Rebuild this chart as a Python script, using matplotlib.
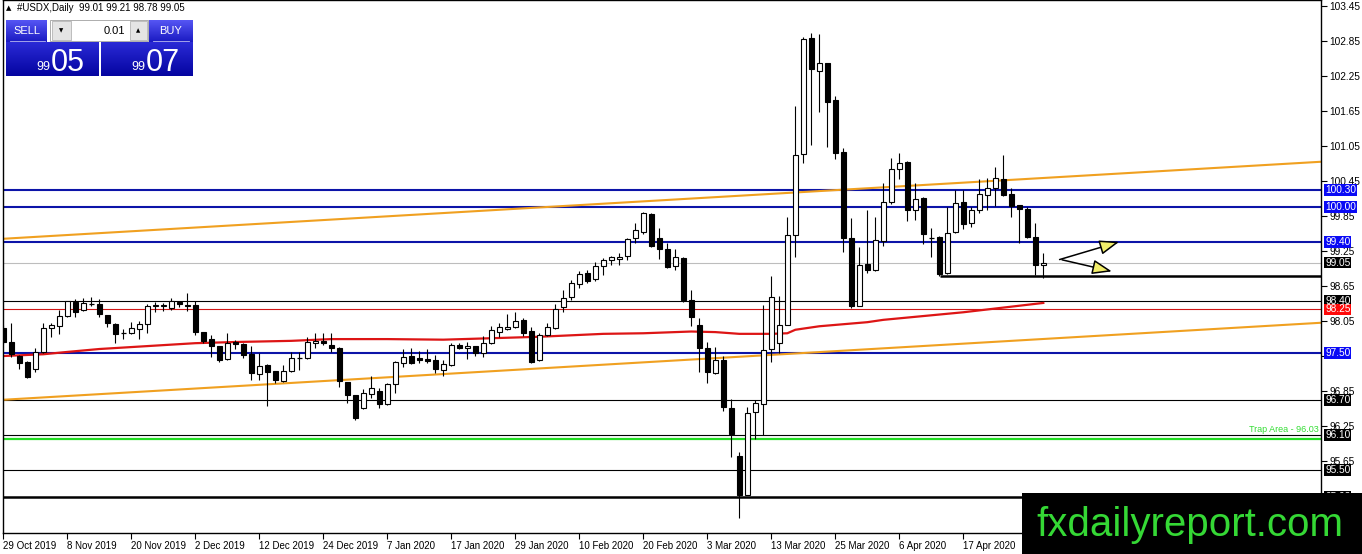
import matplotlib
matplotlib.use('Agg')
import matplotlib.pyplot as plt
import matplotlib.transforms as mtransforms
from matplotlib.patches import Rectangle, FancyArrowPatch
from matplotlib.colors import LinearSegmentedColormap
import numpy as np

plt.rcParams['font.family'] = ['Liberation Sans', 'DejaVu Sans']

# ---------------- data (daily OHLC, 29 Oct 2019 .. 1 May 2020) ----------------
opens = [97.93, 97.69, 97.45, 97.35, 97.23, 97.52, 97.93, 97.96, 98.14, 98.38,
         98.24, 98.35, 98.34, 98.15, 98.00, 97.84, 97.84, 97.91, 98.00, 98.31,
         98.31, 98.27, 98.38, 98.33, 98.33, 97.86, 97.74, 97.62, 97.40, 97.69,
         97.66, 97.48, 97.14, 97.30, 97.19, 97.02, 97.19, 97.42, 97.42, 97.67,
         97.71, 97.64, 97.59, 97.00, 96.78, 96.56, 96.80, 96.85, 96.63, 96.97,
         97.33, 97.45, 97.42, 97.40, 97.38, 97.21, 97.30, 97.64, 97.59, 97.62,
         97.50, 97.67, 97.86, 97.91, 97.95, 98.07, 97.88, 97.38, 97.81, 97.93,
         98.29, 98.46, 98.69, 98.87, 98.77, 98.99, 99.10, 99.11, 99.16, 99.47,
         99.58, 99.89, 99.47, 99.28, 98.99, 99.13, 98.41, 97.99, 97.59, 97.16,
         97.38, 96.56, 95.74, 95.07, 96.49, 96.62, 97.57, 97.67, 97.99, 99.52,
         100.91, 102.90, 102.34, 102.47, 101.84, 100.95, 99.47, 98.31, 99.03, 98.92,
         99.42, 100.09, 100.66, 100.78, 99.95, 100.16, 99.47, 99.49, 98.87, 99.57,
         100.09, 99.73, 99.95, 100.21, 100.33, 100.48, 100.23, 100.04, 99.97, 99.49,
         99.01]
highs = [97.98, 98.02, 97.47, 97.36, 97.59, 98.02, 98.01, 98.24, 98.40, 98.43,
         98.44, 98.46, 98.43, 98.16, 98.01, 97.91, 98.03, 98.05, 98.34, 98.38,
         98.36, 98.44, 98.40, 98.53, 98.39, 97.87, 97.81, 97.63, 97.84, 97.72,
         97.67, 97.62, 97.50, 97.31, 97.20, 97.30, 97.52, 97.52, 97.78, 97.84,
         97.84, 97.84, 97.60, 97.01, 96.79, 96.88, 97.11, 96.90, 96.98, 97.36,
         97.57, 97.59, 97.54, 97.57, 97.47, 97.38, 97.67, 97.67, 97.69, 97.63,
         97.79, 97.96, 98.02, 98.17, 98.20, 98.10, 97.95, 97.84, 98.02, 98.34,
         98.58, 98.75, 98.91, 98.93, 99.06, 99.13, 99.16, 99.22, 99.47, 99.73,
         99.92, 99.90, 99.64, 99.39, 99.28, 99.15, 98.58, 98.10, 97.69, 97.61,
         97.45, 96.71, 95.80, 96.57, 96.69, 98.32, 98.82, 98.48, 99.83, 101.74,
         102.92, 102.99, 102.97, 102.48, 101.91, 101.02, 99.81, 99.32, 99.95, 99.83,
         100.42, 100.85, 100.93, 100.79, 100.42, 100.17, 99.64, 99.50, 100.00, 100.30,
         100.30, 100.00, 100.48, 100.50, 100.69, 100.90, 100.33, 100.04, 100.00, 99.73,
         99.21]
lows = [97.66, 97.43, 97.23, 97.08, 97.18, 97.50, 97.78, 97.83, 98.12, 98.12,
        98.22, 98.31, 98.12, 97.95, 97.67, 97.74, 97.83, 97.74, 97.84, 98.20,
        98.22, 98.24, 98.29, 98.22, 97.81, 97.67, 97.43, 97.35, 97.38, 97.57,
        97.42, 97.04, 97.04, 96.59, 96.99, 97.00, 97.18, 97.21, 97.40, 97.59,
        97.64, 97.52, 96.92, 96.64, 96.35, 96.54, 96.73, 96.56, 96.61, 96.81,
        97.26, 97.31, 97.33, 97.33, 97.16, 97.11, 97.28, 97.57, 97.40, 97.45,
        97.43, 97.66, 97.78, 97.90, 97.93, 97.79, 97.33, 97.36, 97.79, 97.91,
        98.20, 98.41, 98.62, 98.70, 98.74, 98.84, 99.01, 99.01, 99.10, 99.39,
        99.54, 99.32, 99.11, 98.96, 98.92, 98.38, 97.96, 97.18, 96.99, 97.14,
        96.50, 95.72, 94.68, 95.06, 96.02, 96.10, 97.35, 97.50, 97.98, 99.15,
        100.76, 101.07, 101.63, 101.03, 100.83, 99.23, 98.27, 98.30, 98.87, 98.90,
        99.34, 100.06, 100.49, 99.76, 99.78, 99.37, 99.15, 98.82, 98.86, 99.56,
        99.63, 99.66, 99.90, 99.95, 100.02, 100.19, 99.83, 99.38, 99.47, 98.84,
        98.78]
closes = [97.69, 97.48, 97.33, 97.09, 97.52, 97.93, 97.98, 98.14, 98.39, 98.20,
          98.36, 98.36, 98.17, 98.02, 97.83, 97.85, 97.93, 98.00, 98.31, 98.33,
          98.33, 98.39, 98.34, 98.31, 97.86, 97.71, 97.62, 97.38, 97.67, 97.66,
          97.47, 97.16, 97.28, 97.18, 97.04, 97.19, 97.42, 97.43, 97.69, 97.71,
          97.67, 97.59, 97.02, 96.78, 96.39, 96.81, 96.90, 96.63, 96.97, 97.35,
          97.43, 97.33, 97.38, 97.36, 97.23, 97.31, 97.64, 97.59, 97.62, 97.50,
          97.67, 97.90, 97.95, 97.95, 98.05, 97.84, 97.35, 97.81, 97.95, 98.26,
          98.45, 98.70, 98.86, 98.74, 98.99, 99.10, 99.15, 99.15, 99.45, 99.61,
          99.90, 99.34, 99.28, 98.97, 99.15, 98.41, 98.12, 97.59, 97.18, 97.38,
          96.57, 96.11, 95.07, 96.47, 96.64, 97.55, 98.46, 97.99, 99.52, 100.90,
          102.88, 102.37, 102.47, 101.81, 100.93, 99.47, 98.31, 99.01, 98.92, 99.44,
          100.09, 100.66, 100.76, 99.95, 100.14, 99.54, 99.48, 98.86, 99.56, 100.07,
          99.71, 99.95, 100.23, 100.33, 100.50, 100.21, 100.02, 99.97, 99.49, 99.01,
          99.05]

date_tick_bars = [0, 8, 16, 24, 32, 40, 48, 56, 64, 72, 80, 88, 96, 104, 112, 120]
date_tick_labels = ['29 Oct 2019', '8 Nov 2019', '20 Nov 2019', '2 Dec 2019',
                    '12 Dec 2019', '24 Dec 2019', '7 Jan 2020', '17 Jan 2020',
                    '29 Jan 2020', '10 Feb 2020', '20 Feb 2020', '3 Mar 2020',
                    '13 Mar 2020', '25 Mar 2020', '6 Apr 2020', '17 Apr 2020']

# 200-day moving average (read at selected bars)
ma_bars = [0, 5, 8, 12, 18, 24, 29, 36, 41, 48, 55, 67, 75, 80, 86, 89, 92, 96,
           98, 99, 102, 108, 110, 120, 130]
ma_vals = [97.45, 97.48, 97.52, 97.57, 97.62, 97.67, 97.69, 97.71, 97.74, 97.74,
           97.73, 97.78, 97.83, 97.84, 97.87, 97.86, 97.83, 97.83, 97.84, 97.90,
           97.96, 98.03, 98.07, 98.20, 98.36]

# trend lines (bar, price) endpoints
upper_trend = [(0.0, 99.46), (164.7, 100.78)]
lower_trend = [(0.0, 96.70), (164.7, 98.02)]

# horizontal levels
blue_levels = [100.30, 100.00, 99.40, 97.50]
black_levels = [98.40, 96.70, 96.10, 95.50]
red_level = 98.25
current_price = 99.05
bottom_level = 95.03
trap_level = 96.03
support_level = 98.83
support_start_bar = 117.1

price_labels = [(100.30, '100.30', '#0a0af5'), (100.00, '100.00', '#0a0af5'),
                (99.40, '99.40', '#0a0af5'), (99.05, '99.05', 'black'),
                (98.40, '98.40', 'black'), (98.25, '98.25', '#ff0a0a'),
                (97.50, '97.50', '#0a0af5'), (96.70, '96.70', 'black'),
                (96.10, '96.10', 'black'), (95.50, '95.50', 'black'),
                (95.03, '95.03', 'black')]
hidden_ticks = [97.45, 95.05]   # tick labels covered by level labels / logo

arrows = [((131.7, 99.09), (139.8, 99.42)), ((132.0, 99.11), (138.9, 98.89))]

# ---------------- figure ----------------
W, H = 1362, 554
fig = plt.figure(figsize=(W / 100, H / 100), dpi=100)
fig.patch.set_facecolor('white')
ax = fig.add_axes([3 / W, (H - 533) / H, (1321 - 3) / W, 533 / H])
ax.set_xlim(-0.04, 164.71)
ax.set_ylim(94.416, 103.553)
for s in ax.spines.values():
    s.set_linewidth(1.0)
    s.set_color('black')

# horizontal lines
for lv in blue_levels:
    ax.axhline(lv, color='#0c14a8', lw=1.5, zorder=2)
for lv in black_levels:
    ax.axhline(lv, color='black', lw=0.8, zorder=2)
ax.axhline(red_level, color='#d01515', lw=0.8, zorder=2)
ax.axhline(current_price, color='#bdbdbd', lw=0.8, zorder=1.5)
ax.axhline(bottom_level, color='black', lw=1.8, zorder=2)
ax.axhline(trap_level, color='#22dd22', lw=1.6, zorder=2)
ax.hlines(support_level, support_start_bar, 164.71, color='black', lw=1.8, zorder=2)

# trend lines
ax.plot([p[0] for p in upper_trend], [p[1] for p in upper_trend], color='#f0a020', lw=1.5, zorder=2.2)
ax.plot([p[0] for p in lower_trend], [p[1] for p in lower_trend], color='#f0a020', lw=1.5, zorder=2.2)

# moving average
ax.plot(ma_bars, ma_vals, color='#dd1515', lw=1.6, zorder=2.5)

# candles
idx = np.arange(len(opens))
ax.vlines(idx, lows, highs, color='black', lw=0.8, zorder=3)
bw = 0.62
for i, (o, c) in enumerate(zip(opens, closes)):
    if abs(c - o) < 0.015:
        ax.hlines(o, i - bw / 2, i + bw / 2, color='black', lw=0.9, zorder=4)
        continue
    lo = min(o, c)
    hgt = abs(c - o)
    if c > o:
        ax.add_patch(Rectangle((i - bw / 2, lo), bw, hgt, facecolor='white',
                               edgecolor='black', lw=0.8, zorder=4))
    else:
        ax.add_patch(Rectangle((i - bw / 2, lo), bw, hgt, facecolor='black',
                               edgecolor='black', lw=0.8, zorder=4))

# arrows
for (a, b) in arrows:
    ax.add_patch(FancyArrowPatch(a, b, arrowstyle='-|>,head_length=1.2,head_width=0.45',
                                 mutation_scale=10, facecolor='#f2ee6a', edgecolor='black',
                                 lw=1.1, zorder=6))

# trap text
ax.text(0.998, trap_level + 0.08, 'Trap Area - 96.03',
        transform=mtransforms.blended_transform_factory(ax.transAxes, ax.transData),
        ha='right', va='bottom', fontsize=6.5, color='#33dd33', zorder=6)

# ticks
ax.yaxis.tick_right()
yt = np.round(np.arange(95.05, 103.46, 0.6), 2)
ax.set_yticks(yt)
ax.set_yticklabels(['' if any(abs(v - h) < 1e-6 for h in hidden_ticks) else '%.2f' % v for v in yt])
ax.tick_params(axis='y', direction='out', length=4, width=0.8, pad=2, labelsize=7.3)
ax.set_xticks(date_tick_bars)
ax.set_xticklabels(date_tick_labels, ha='left')
ax.tick_params(axis='x', direction='out', length=4, width=0.8, pad=2, labelsize=7)

# right price labels
trans = mtransforms.blended_transform_factory(fig.transFigure, ax.transData)
for val, txt, bg in price_labels:
    fig.text(1325 / W, val, txt, transform=trans, ha='left', va='center', fontsize=7.3,
             color='white', bbox=dict(boxstyle='square,pad=0.08', fc=bg, ec='none'), zorder=5)

# ---------------- overlay (trade panel and logo) ----------------
ov = fig.add_axes([0, 0, 1, 1], zorder=10)
ov.patch.set_alpha(0)
ov.axis('off')


def grad_box(x0, y0, x1, y1, c_top, c_bot):
    cmap = LinearSegmentedColormap.from_list('g', [c_top, c_bot])
    g = np.linspace(0, 1, 64).reshape(-1, 1)
    ov.imshow(g, cmap=cmap, extent=[x0, x1, y1, y0], aspect='auto', origin='upper',
              interpolation='bilinear', zorder=2)


ov.text(6, 8, '\u25b2', fontsize=5, va='center', ha='left', family=['DejaVu Sans'])
ov.text(17, 8, '#USDX,Daily  99.01 99.21 98.78 99.05', fontsize=7, va='center', ha='left')

grad_box(6, 20, 47, 42, '#5656f4', '#1a1ac2')
grad_box(149, 20, 193, 42, '#5656f4', '#1a1ac2')
grad_box(6, 42, 99, 76, '#2a2ad6', '#0404a0')
grad_box(101, 42, 193, 76, '#2a2ad6', '#0404a0')
ov.plot([10, 45], [41, 41], color='#b8b8f0', lw=0.6, zorder=3)
ov.plot([153, 189], [41, 41], color='#b8b8f0', lw=0.6, zorder=3)
ov.text(26.5, 31, 'SELL', color='white', fontsize=8, ha='center', va='center', zorder=4)
ov.text(171, 31, 'BUY', color='white', fontsize=8, ha='center', va='center', zorder=4)
# lot box
ov.add_patch(Rectangle((50, 20), 98, 21, facecolor='white', edgecolor='#a0a0a0', lw=0.6, zorder=2))
ov.add_patch(Rectangle((52, 21), 19, 19, facecolor='#e4e4e4', edgecolor='#a8a8a8', lw=0.5, zorder=3))
ov.add_patch(Rectangle((130, 21), 17, 19, facecolor='#e4e4e4', edgecolor='#a8a8a8', lw=0.5, zorder=3))
ov.text(61.5, 30.5, '\u25bc', fontsize=4, ha='center', va='center', family=['DejaVu Sans'], zorder=4)
ov.text(138.5, 30.5, '\u25b2', fontsize=4, ha='center', va='center', family=['DejaVu Sans'], zorder=4)
ov.text(125, 30.5, '0.01', fontsize=8, ha='right', va='center', zorder=4)
# price tiles
ov.text(50, 70, '99', color='white', fontsize=9, ha='right', va='baseline', zorder=4)
ov.text(51, 71, '05', color='white', fontsize=22, ha='left', va='baseline', zorder=4)
ov.text(145, 70, '99', color='white', fontsize=9, ha='right', va='baseline', zorder=4)
ov.text(146, 71, '07', color='white', fontsize=22, ha='left', va='baseline', zorder=4)

# logo
ov.add_patch(Rectangle((1022, 493), 340, 61, facecolor='black', edgecolor='none', zorder=5))
ov.text(1190, 536, 'fxdailyreport.com', color='#35d835', fontsize=29, ha='center',
        va='baseline', zorder=6)

ov.set_xlim(0, W)
ov.set_ylim(H, 0)

fig.savefig('out.png', dpi=100)
